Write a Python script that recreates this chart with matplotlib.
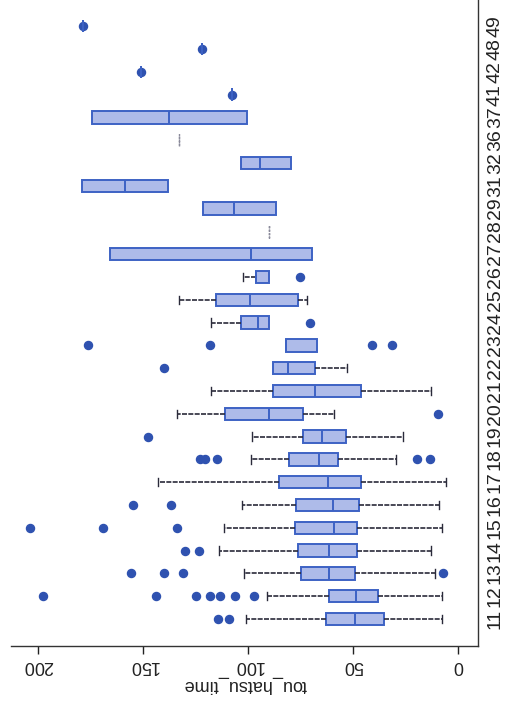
import matplotlib
matplotlib.use("Agg")
import matplotlib.pyplot as plt

plt.rcParams['font.family'] = ['Liberation Sans', 'DejaVu Sans']

categories = ["11", "12", "13", "14", "15", "16", "17", "18", "19", "20", "21", "22",
              "23", "24", "25", "26", "27", "28", "29", "31", "32", "36", "37", "41",
              "42", "48", "49"]
whishi = [101.1, 91.0, 101.9, 113.9, 111.6, 102.9, 142.9, 98.9, 98.1, 133.8, 117.9, 88.4,
          82.2, 117.9, 132.9, 102.4, 165.9, 90.1, 121.4, 179.4, 103.6, 133.0, 174.3, 107.6,
          151.2, 122.2, 178.6]
q3 = [63.2, 61.6, 75.0, 76.5, 78.0, 77.4, 85.2, 80.5, 74.1, 111.1, 88.4, 88.4,
      82.2, 103.5, 115.4, 96.3, 165.9, 90.1, 121.4, 179.4, 103.6, 133.0, 174.3, 107.6,
      151.2, 122.2, 178.6]
med = [49.2, 48.7, 61.6, 61.6, 59.2, 59.8, 62.2, 66.2, 64.8, 90.1, 68.2, 81.2,
       82.2, 95.5, 99.2, 96.3, 98.9, 90.1, 106.7, 158.7, 94.4, 133.0, 137.6, 107.6,
       151.2, 122.2, 178.6]
q1 = [35.4, 38.4, 49.2, 48.4, 48.4, 47.1, 46.3, 57.1, 53.6, 74.1, 46.3, 68.2,
      67.5, 90.1, 76.2, 90.1, 69.8, 90.1, 86.8, 138.4, 79.7, 133.0, 100.8, 107.6,
      151.2, 122.2, 178.6]
whislo = [7.6, 7.6, 11.0, 13.0, 7.9, 9.0, 6.0, 29.8, 26.2, 59.2, 13.0, 53.1,
          67.5, 90.1, 72.2, 90.1, 69.8, 90.1, 86.8, 138.4, 79.7, 133.0, 100.8, 107.6,
          151.2, 122.2, 178.6]
fliers = [
    [114.6, 109.2],
    [197.9, 144.0, 125.0, 118.2, 113.5, 106.3, 97.3],
    [156.0, 140.1, 131.2, 7.1],
    [130.1, 123.3],
    [204.0, 169.0, 134.0],
    [154.8, 136.8],
    [],
    [123.0, 120.6, 115.0, 19.5, 13.5],
    [148.0],
    [9.5],
    [],
    [140.0],
    [176.2, 118.2, 41.2, 31.4],
    [70.6],
    [],
    [75.4],
    [], [], [], [], [], [], [],
    [107.6],
    [151.2],
    [122.2],
    [178.6],
]

W, H = 511, 704
fig = plt.figure(figsize=(W / 100, H / 100), dpi=100)

left_px, right_px, bottom_px = 11.0, 477.7, 646.0
ax = fig.add_axes([left_px / W, (H - bottom_px) / H, (right_px - left_px) / W, bottom_px / H])

stats = []
for i, c in enumerate(categories):
    stats.append(dict(label=c, whislo=whislo[i], q1=q1[i], med=med[i], q3=q3[i],
                      whishi=whishi[i], fliers=fliers[i]))

positions = list(range(1, len(categories) + 1))
box_color = "#3d62c4"
fill_color = "#aebbe9"
flier_color = "#2f52b0"
whisk_color = "#2a2a3a"

kw = dict(positions=positions, widths=0.55, patch_artist=True, capwidths=0.36,
          boxprops=dict(facecolor=fill_color, edgecolor=box_color, linewidth=1.4),
          medianprops=dict(color=box_color, linewidth=1.4),
          whiskerprops=dict(color=whisk_color, linewidth=1.2, linestyle=(0, (3, 0.8))),
          capprops=dict(color=whisk_color, linewidth=1.0),
          flierprops=dict(marker='o', markerfacecolor=flier_color, markeredgecolor=flier_color,
                          markersize=5.8, linestyle='none'),
          manage_ticks=False)
try:
    parts = ax.bxp(stats, orientation='horizontal', **kw)
except TypeError:
    parts = ax.bxp(stats, vert=False, **kw)

# hide caps where the whisker has zero length; style single-value rows
for i in range(len(categories)):
    lo_cap, hi_cap = parts['caps'][2 * i], parts['caps'][2 * i + 1]
    if whislo[i] == q1[i]:
        lo_cap.set_visible(False)
    if whishi[i] == q3[i]:
        hi_cap.set_visible(False)
    if q1[i] == q3[i] and not fliers[i]:
        parts['boxes'][i].set_edgecolor("#8a8a9a")
        parts['boxes'][i].set_linestyle((0, (1.5, 1)))
        parts['boxes'][i].set_linewidth(1.0)
        parts['medians'][i].set_visible(False)

x0_px, ppu = 458.3, 2.1
ax.set_xlim((x0_px - left_px) / ppu, (x0_px - right_px) / ppu)
y1_px, step = 619.0, 22.8
ax.set_ylim(1 - (bottom_px - y1_px) / step, 1 + y1_px / step)

ax.set_xticks([0, 50, 100, 150, 200])
ax.set_xticklabels(["0", "50", "100", "150", "200"], rotation=180, fontsize=13)
ax.tick_params(axis='x', length=5.8, width=1.0, pad=2, colors="#222222")

ax.yaxis.tick_right()
ax.set_yticks(positions)
ax.set_yticklabels(categories, rotation=90, fontsize=14, va='center')
ax.tick_params(axis='y', length=0, pad=6.5, colors="#222222")

for s in ['top', 'left']:
    ax.spines[s].set_visible(False)
for s in ['bottom', 'right']:
    ax.spines[s].set_color("#333333")
    ax.spines[s].set_linewidth(1.0)

fig.text(245 / W, 1 - 685 / H, "tou_hatsu_time", rotation=180, ha='center', va='center',
         fontsize=13, color="#222222")

fig.savefig("out.png", dpi=100)
